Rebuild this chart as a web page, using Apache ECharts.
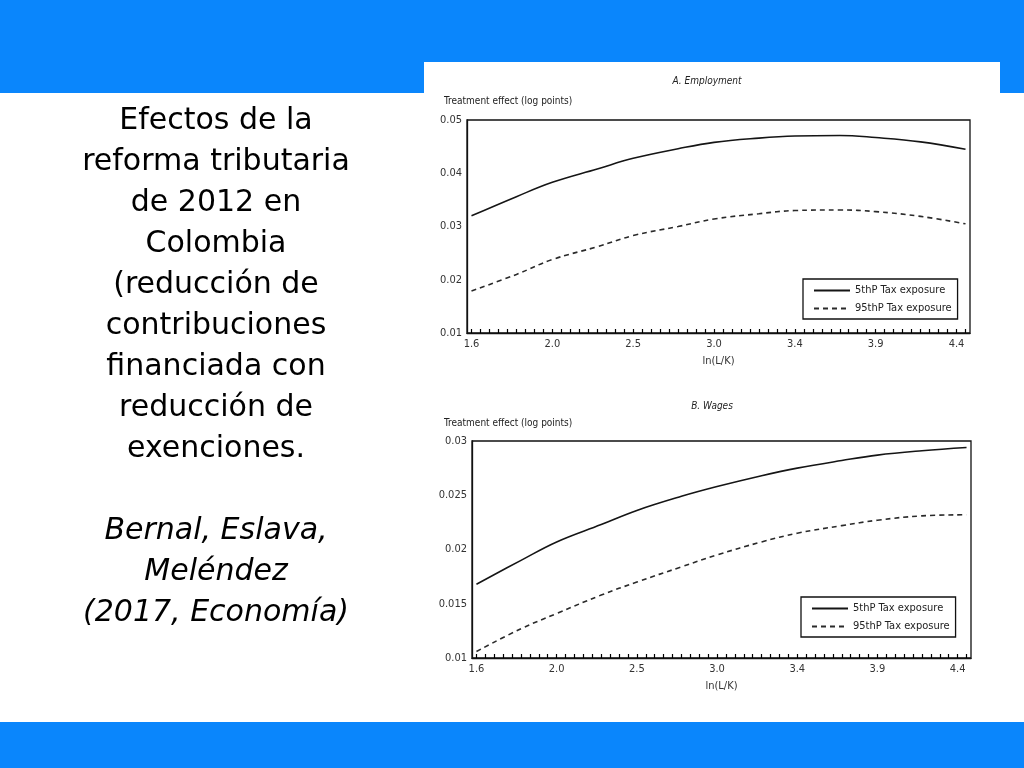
<!DOCTYPE html>
<html>
<head>
<meta charset="utf-8">
<script src="https://cdn.jsdelivr.net/npm/echarts@6/dist/echarts.min.js"></script>
<style>
  html, body { margin: 0; padding: 0; background: #fff; }
  #main { width: 1024px; height: 768px; }
</style>
</head>
<body>
<div id="main"></div>
<script>
// x axis: ln(L/K), 56 evenly spaced grid points, a label every 9th
var lnTicks = ['1.6', '2.0', '2.5', '3.0', '3.4', '3.9', '4.4'];
var nPoints = 56;
var categories = Array.from({ length: nPoints }, function (_, i) { return String(i); });

var sampleIdx = [0, 5, 9, 14, 18, 23, 27, 32, 36, 41, 45, 50, 55];

// A. Employment
var emp5 = [0.0320, 0.0356, 0.0383, 0.0408, 0.0428, 0.0446, 0.0458, 0.0466, 0.0470, 0.0471, 0.0467, 0.0459, 0.0445];
var emp95 = [0.0179, 0.0210, 0.0238, 0.0262, 0.0283, 0.0300, 0.0314, 0.0324, 0.0330, 0.0331, 0.0328, 0.0319, 0.0305];
// B. Wages
var wage5 = [0.0168, 0.0190, 0.0207, 0.0223, 0.0236, 0.0249, 0.0258, 0.0268, 0.0275, 0.0282, 0.0287, 0.0291, 0.0294];
var wage95 = [0.0106, 0.0127, 0.0141, 0.0158, 0.0170, 0.0184, 0.0195, 0.0207, 0.0215, 0.0222, 0.0227, 0.0231, 0.0232];

var seriesNames = ['5thP Tax exposure', '95thP Tax exposure'];

var NARROW = "'Liberation Sans Narrow', 'DejaVu Sans Condensed', sans-serif";
var BLUE = '#0a86fc';

function pairs(values) {
    return values.map(function (v, i) { return [sampleIdx[i], v]; });
}

function xAxis(gridIndex) {
    return {
        type: 'category',
        gridIndex: gridIndex,
        data: categories,
        boundaryGap: true,
        z: 5,
        axisLine: { show: true, lineStyle: { color: '#111', width: 1.3 } },
        axisTick: { show: true, inside: true, length: 4, interval: 0, alignWithLabel: true, lineStyle: { color: '#000', width: 1.2 } },
        axisLabel: {
            interval: 0,
            color: '#333',
            fontFamily: NARROW,
            fontSize: 11,
            margin: 6,
            formatter: function (v, idx) { return idx % 9 === 0 ? (lnTicks[idx / 9] || '') : ''; }
        },
        name: 'ln(L/K)',
        nameLocation: 'middle',
        nameGap: 23,
        nameTextStyle: { color: '#333', fontFamily: NARROW, fontSize: 11 },
        splitLine: { show: false }
    };
}

function yAxis(gridIndex, min, max, step, digits) {
    return {
        type: 'value',
        gridIndex: gridIndex,
        min: min,
        max: max,
        interval: step,
        axisLine: { show: true, lineStyle: { color: '#111', width: 1.3 } },
        axisTick: { show: false },
        splitLine: { show: false },
        axisLabel: {
            color: '#333',
            fontFamily: NARROW,
            fontSize: 11,
            margin: 5,
            formatter: function (v) { return String(+v.toFixed(digits)); }
        }
    };
}

function lineSeries(name, values, gridIndex, dashed) {
    return {
        type: 'line',
        name: name,
        xAxisIndex: gridIndex,
        yAxisIndex: gridIndex,
        data: pairs(values),
        smooth: 0.4,
        symbol: 'none',
        silent: true,
        lineStyle: {
            color: dashed ? '#2a2a2a' : '#151515',
            width: 1.6,
            type: dashed ? [5, 4] : 'solid'
        },
        itemStyle: { color: dashed ? '#2a2a2a' : '#151515' }
    };
}

function legend(left, top) {
    return {
        data: seriesNames,
        orient: 'vertical',
        left: left,
        top: top,
        padding: [6, 6, 5, 10],
        itemGap: 7,
        itemWidth: 36,
        itemHeight: 9,
        borderColor: '#111',
        borderWidth: 1.3,
        borderRadius: 0,
        selectedMode: false,
        itemStyle: { opacity: 0 },
        textStyle: { color: '#222', fontFamily: NARROW, fontSize: 11 }
    };
}

var leftText = 'Efectos de la\nreforma tributaria\nde 2012 en\nColombia\n(reducción de\ncontribuciones\nfinanciada con\nreducción de\nexenciones.';
var citeText = 'Bernal, Eslava,\nMeléndez\n(2017, Economía)';

var chart = echarts.init(document.getElementById('main'));
var option = {
    animation: false,
    backgroundColor: '#fff',
    graphic: [
        { type: 'rect', z: -10, shape: { x: 0, y: 0, width: 1024, height: 93 }, style: { fill: BLUE } },
        { type: 'rect', z: -10, shape: { x: 0, y: 722, width: 1024, height: 46 }, style: { fill: BLUE } },
        { type: 'rect', z: -9, shape: { x: 424, y: 62, width: 576, height: 644 }, style: { fill: '#fff' } },
        {
            type: 'text', z: 5, x: 216, y: 101,
            style: {
                text: leftText, textAlign: 'center', textVerticalAlign: 'top',
                font: '30px "DejaVu Sans"', lineHeight: 41, fill: '#000'
            }
        },
        {
            type: 'text', z: 5, x: 216, y: 511,
            style: {
                text: citeText, textAlign: 'center', textVerticalAlign: 'top',
                font: 'italic 30px "DejaVu Sans"', lineHeight: 41, fill: '#000'
            }
        },
        {
            type: 'text', z: 5, x: 707, y: 81,
            style: { text: 'A. Employment', textAlign: 'center', textVerticalAlign: 'middle', font: 'italic 10px ' + NARROW, fill: '#222' }
        },
        {
            type: 'text', z: 5, x: 444, y: 101,
            style: { text: 'Treatment effect (log points)', textAlign: 'left', textVerticalAlign: 'middle', font: '10px ' + NARROW, fill: '#222' }
        },
        {
            type: 'text', z: 5, x: 712, y: 406,
            style: { text: 'B. Wages', textAlign: 'center', textVerticalAlign: 'middle', font: 'italic 10px ' + NARROW, fill: '#222' }
        },
        {
            type: 'text', z: 5, x: 444, y: 423,
            style: { text: 'Treatment effect (log points)', textAlign: 'left', textVerticalAlign: 'middle', font: '10px ' + NARROW, fill: '#222' }
        }
    ],
    grid: [
        { left: 467, right: 54, top: 120, height: 213, show: true, borderColor: '#111', borderWidth: 1.3, backgroundColor: 'transparent' },
        { left: 472, right: 53, top: 441, height: 217, show: true, borderColor: '#111', borderWidth: 1.3, backgroundColor: 'transparent' }
    ],
    legend: [legend(803, 279), legend(801, 597)],
    xAxis: [xAxis(0), xAxis(1)],
    yAxis: [yAxis(0, 0.01, 0.05, 0.01, 2), yAxis(1, 0.01, 0.03, 0.005, 3)],
    series: [
        lineSeries(seriesNames[0], emp5, 0, false),
        lineSeries(seriesNames[1], emp95, 0, true),
        lineSeries(seriesNames[0], wage5, 1, false),
        lineSeries(seriesNames[1], wage95, 1, true)
    ]
};
chart.setOption(option);
</script>
</body>
</html>
